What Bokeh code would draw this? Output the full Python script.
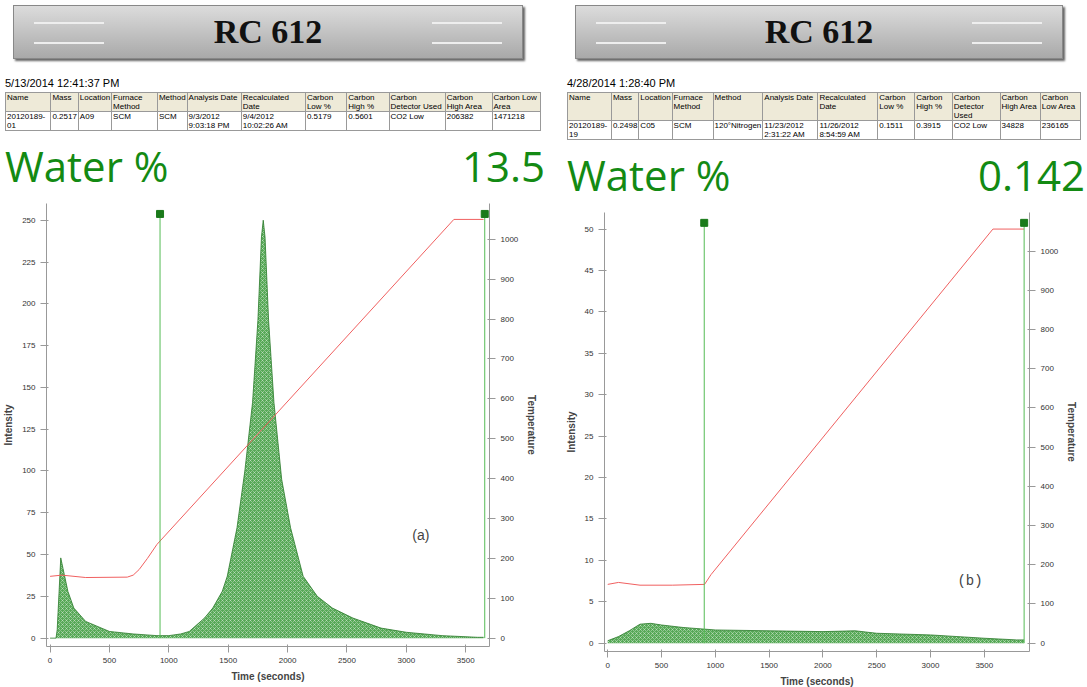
from bokeh.plotting import figure
from bokeh.models import Div, Range1d, LinearAxis, Label
from bokeh.layouts import column, row
from bokeh.embed import file_html
from bokeh.resources import INLINE

# ---- data (a) ----
a_t = [0, 50, 60, 90, 120, 150, 200, 300, 500, 700, 900, 1000, 1100, 1172, 1300, 1370, 1450, 1492, 1574, 1640,
       1705, 1750, 1780, 1795, 1810, 1840, 1885, 1950, 2025, 2131, 2250, 2377, 2550, 2787, 3000, 3300, 3600, 3650]
a_int = [0, 0, 5, 48, 38, 28, 18, 10, 4, 2.5, 1.5, 1.5, 2.5, 4, 12, 18, 28, 37, 66, 100,
         141, 190, 240, 250, 240, 190, 141, 95, 66, 37, 25, 18, 12, 6, 3.5, 1.5, 0.5, 0.5]
a_temp_t = [0, 100, 300, 650, 700, 750, 820, 900, 3400, 3650]
a_temp = [155, 158, 152, 153, 158, 172, 200, 235, 1050, 1050]
a_lines = [926, 3660]
# ---- data (b) ----
b_t = [0, 100, 200, 300, 400, 500, 700, 1000, 1500, 2000, 2300, 2500, 3000, 3500, 3800, 3870]
b_int = [0.3, 0.8, 1.5, 2.3, 2.4, 2.2, 1.9, 1.6, 1.5, 1.4, 1.5, 1.2, 1.0, 0.6, 0.4, 0.4]
b_temp_t = [0, 100, 300, 600, 900, 960, 3580, 3870]
b_temp = [150, 155, 148, 148, 150, 175, 1056, 1056]
b_lines = [897, 3870]

GREEN = "#138a13"

def banner(w):
    return Div(width=w, height=58, text=f"""
<div style="width:{w-30}px;height:54px;margin-left:8px;background:linear-gradient(#dcdcdc,#a9a9a9);
border:1px solid #888;box-shadow:2px 2px 2px #666;display:flex;align-items:center;justify-content:center;position:relative;">
<div style="position:absolute;left:20px;top:16px;width:70px;height:22px;border-top:2px solid #eee;border-bottom:2px solid #eee;"></div>
<div style="position:absolute;right:20px;top:16px;width:70px;height:22px;border-top:2px solid #eee;border-bottom:2px solid #eee;"></div>
<span style="font-family:'Liberation Serif';font-weight:bold;font-size:34px;color:#111;">RC 612</span></div>""")

def table(w, date, hdr, vals):
    th = "".join(f'<td style="border:1px solid #999;background:#eeead8;vertical-align:top;padding:0 1px;">{h}</td>' for h in hdr)
    td = "".join(f'<td style="border:1px solid #999;vertical-align:top;padding:0 1px;">{v}</td>' for v in vals)
    return Div(width=w, text=f"""<div style="font-family:'Liberation Sans';font-size:11px;">{date}</div>
<table style="border-collapse:collapse;font-family:'Liberation Sans';font-size:8px;width:{w-4}px;line-height:9px;"><tr>{th}</tr><tr>{td}</tr></table>""")

def water(w, v):
    return Div(width=w, height=48, text=f"""<div style="width:{w}px;display:flex;justify-content:space-between;
font-family:'Open Sans';font-size:42px;color:{GREEN};line-height:46px;"><span>Water %</span><span>{v}</span></div>""")

def chart(w, h, t, inten, tt, temp, lines, ymax, ticks, tscale, xmax, xticks, lab, labx, laby, labfont):
    p = figure(width=w, height=h, output_backend="svg", toolbar_location=None,
               x_range=Range1d(-30, xmax), y_range=Range1d(-ymax*0.02, ymax*1.04),
               min_border_left=35, min_border_right=45, min_border_top=5, min_border_bottom=40)
    p.grid.visible = False
    p.outline_line_color = None
    p.extra_y_ranges = {"t": Range1d(-ymax*0.02*tscale, ymax*1.04*tscale)}
    p.varea(x=t, y1=[0]*len(t), y2=inten, fill_color="#3a9a3a", fill_alpha=0.85,
            hatch_pattern="x", hatch_color="white", hatch_alpha=0.6, hatch_scale=4, hatch_weight=0.6)
    p.line(t, inten, color="#2a7a2a", line_width=0.8)
    p.line(tt, [v / tscale for v in temp], color="#f06060", line_width=1)
    for L in lines:
        p.line([L, L], [0, ymax*1.015], color="#55bb55", line_width=1)
        p.scatter([L], [ymax*1.015], marker="square", size=7, color="#1a7a1a")
    p.yaxis.ticker = ticks
    p.xaxis.ticker = xticks
    p.yaxis.axis_label = "Intensity"
    p.xaxis.axis_label = "Time (seconds)"
    ax = LinearAxis(y_range_name="t", axis_label="Temperature", ticker=list(range(0, 1100, 100)))
    p.add_layout(ax, "right")
    for a in p.axis:
        a.major_label_text_font_size = "8px"
        a.major_label_text_color = "#333"
        a.axis_label_text_font_size = "10px"
        a.axis_label_text_font_style = "bold"
        a.axis_label_text_font = "Liberation Sans"
        a.axis_line_color = "#999"
        a.major_tick_line_color = "#999"
        a.minor_tick_line_color = None
    p.add_layout(Label(x=labx, y=laby, text=lab, text_font=labfont, text_font_size="14px"))
    return p

wl, wr = 540, 518
pa = chart(wl, 488, a_t, a_int, a_temp_t, a_temp, a_lines, 250, list(range(0, 275, 25)), 1048/250,
           3700, list(range(0, 4000, 500)), "(a)", 3050, 57, "Liberation Sans")
pb = chart(wr, 484, b_t, b_int, b_temp_t, b_temp, b_lines, 50, list(range(0, 55, 5)), 1056/50,
           3920, list(range(0, 4000, 500)), "(b)", 3250, 6.5, "Liberation Mono")

hdr = ["Name", "Mass", "Location", "Furnace Method", "Method", "Analysis Date", "Recalculated Date",
       "Carbon Low %", "Carbon High %", "Carbon Detector Used", "Carbon High Area", "Carbon Low Area"]
left = column(banner(wl), table(wl, "5/13/2014 12:41:37 PM", hdr,
              ["20120189-01", "0.2517", "A09", "SCM", "SCM", "9/3/2012 9:03:18 PM", "9/4/2012 10:02:26 AM",
               "0.5179", "0.5601", "CO2 Low", "206382", "1471218"]), water(wl, "13.5"), pa, spacing=2)
right = column(banner(wr), table(wr, "4/28/2014 1:28:40 PM", hdr,
               ["20120189-19", "0.2498", "C05", "SCM", "120°Nitrogen", "11/23/2012 2:31:22 AM", "11/26/2012 8:54:59 AM",
                "0.1511", "0.3915", "CO2 Low", "34828", "236165"]), water(wr, "0.142"), pb, spacing=2)
lay = row(left, right, spacing=12)
open("out.html", "w").write(file_html(lay, INLINE))
